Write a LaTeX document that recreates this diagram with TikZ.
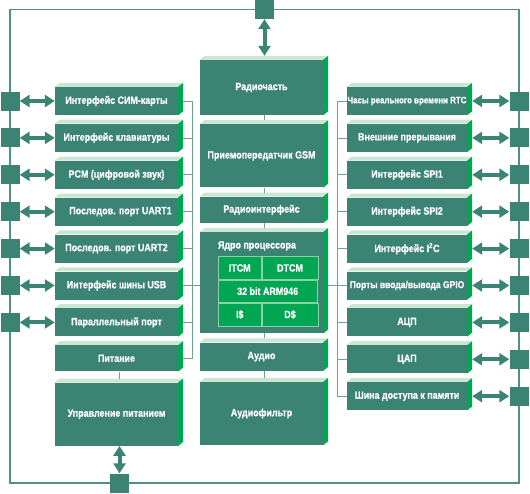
\documentclass[tikz,border=0pt]{standalone}
\usepackage{fontspec}
\setmainfont{Liberation Sans}[FakeStretch=0.85, BoldFeatures={FakeBold=0.8}]
\usetikzlibrary{positioning, arrows.meta}

\definecolor{blkteal}{HTML}{3B8373}
\definecolor{bevlight}{HTML}{CBE7D3}
\definecolor{bevgreen}{HTML}{00A651}
\definecolor{wireteal}{HTML}{6FA294}
\definecolor{frameteal}{HTML}{4F9280}
\definecolor{coregreen}{HTML}{00A651}
\definecolor{coreedge}{HTML}{8AD3A6}

\tikzset{
  blk/.style={fill=blkteal, text=white, font=\fontsize{10.5}{12}\selectfont\bfseries,
    inner sep=0pt, minimum width=123pt, minimum height=28pt,
    append after command={\pgfextra{\let\blkname\tikzlastnode
      \fill[bevlight] (\blkname.north west) -- ++(5,-4) -- ([shift={(5,-4)}]\blkname.north east) -- (\blkname.north east) -- cycle;
      \fill[bevgreen] (\blkname.north east) -- ++(5,-4) -- ([shift={(5,-4)}]\blkname.south east) -- (\blkname.south east) -- cycle;}}},
  sq/.style={fill=blkteal, inner sep=0pt, minimum size=19pt},
  cell/.style={draw=coreedge, fill=coregreen, line width=0.8pt, text=white, inner sep=0pt,
    anchor=north west, font=\fontsize{10.5}{12}\selectfont\bfseries},
  lbl/.style={text=white, inner sep=0pt, font=\fontsize{10.5}{12}\selectfont\bfseries},
  wire/.style={draw=wireteal, line width=0.8pt},
  dbl/.style={draw=blkteal, line width=4pt, {Triangle[width=12pt,length=10pt]}-{Triangle[width=12pt,length=10pt]}}
}

\begin{document}
\begin{tikzpicture}[x=1pt, y=-1pt]
  \useasboundingbox (0,0) rectangle (530,493);
  \coordinate (fl) at (10,0);
  \coordinate (fr) at (519,0);
  \coordinate (lbus) at (192,0);
  \coordinate (rbus) at (337,0);
  \draw[frameteal, line width=1.3pt] (10,9.5) rectangle (519,483);

  \node[blk] (sim) at (116.5,101) {Интерфейс СИМ-карты};
  \node[blk, below=8.5pt of sim] (klav) {Интерфейс клавиатуры};
  \node[blk, below=8.5pt of klav] (pcm) {PCM (цифровой звук)};
  \node[blk, below=8.5pt of pcm] (uarta) {\hspace{8pt}Последов. порт UART1};
  \node[blk, below=8.5pt of uarta] (uartb) {Последов. порт UART2};
  \node[blk, below=8.5pt of uartb] (usb) {Интерфейс шины USB};
  \node[blk, below=8.5pt of usb] (par) {Параллельный порт};
  \node[blk, below=8.5pt of par, minimum height=26pt] (pit) {Питание};
  \node[blk, below=11pt of pit, minimum height=63pt] (upr) {Управление питанием};

  \node[blk, minimum height=55pt] (radio) at (261.5,87.5) {Радиочасть};
  \node[blk, below=9pt of radio, minimum height=63pt] (gsm) {Приемопередатчик GSM};
  \node[blk, below=9pt of gsm, minimum height=26pt] (rif) {Радиоинтерфейс};
  \node[blk, below=9pt of rif, minimum height=101pt] (core) {};
  \node[blk, below=9pt of core] (aud) {Аудио};
  \node[blk, below=11pt of aud, minimum height=63pt] (afil) {Аудиофильтр};

  \node[lbl, anchor=west] (coretitle) at ([xshift=18pt,yshift=-14pt]core.north west) {Ядро процессора};
  \node[cell, minimum width=43pt, minimum height=23pt] (itcm) at ([xshift=18pt,yshift=-24pt]core.north west) {ITCM};
  \node[cell, minimum width=56pt, minimum height=23pt] (dtcm) at (itcm.north east) {DTCM};
  \node[cell, minimum width=99pt, minimum height=22pt] (arm) at (itcm.south west) {32 bit ARM946};
  \node[cell, minimum width=43pt, minimum height=23pt] (icache) at (arm.south west) {I\$};
  \node[cell, minimum width=56pt, minimum height=23pt] (dcache) at (icache.north east) {D\$};

  \node[blk, minimum width=120pt, font=\fontsize{9.3}{11}\selectfont\bfseries] (rtc) at (407,101) {Часы реального времени RTC};
  \node[blk, minimum width=120pt, below=8.5pt of rtc] (irq) {Внешние прерывания};
  \node[blk, minimum width=120pt, below=8.5pt of irq] (spia) {Интерфейс SPI1};
  \node[blk, minimum width=120pt, below=8.5pt of spia] (spib) {Интерфейс SPI2};
  \node[blk, minimum width=120pt, below=8.5pt of spib] (itc) {Интерфейс I\textsuperscript{2}C};
  \node[blk, minimum width=120pt, below=8.5pt of itc, font=\fontsize{10}{12}\selectfont\bfseries] (gpio) {Порты ввода/вывода GPIO};
  \node[blk, minimum width=120pt, below=8.5pt of gpio] (adc) {АЦП};
  \node[blk, minimum width=120pt, below=8.5pt of adc] (dac) {ЦАП};
  \node[blk, minimum width=120pt, below=8.5pt of dac] (mem) {Шина доступа к памяти};

  \node[sq] (sqsim) at (fl |- sim) {};
  \node[sq] (sqklav) at (fl |- klav) {};
  \node[sq] (sqpcm) at (fl |- pcm) {};
  \node[sq] (squarta) at (fl |- uarta) {};
  \node[sq] (squartb) at (fl |- uartb) {};
  \node[sq] (squsb) at (fl |- usb) {};
  \node[sq] (sqpar) at (fl |- par) {};
  \node[sq] (sqrtc) at (fr |- rtc) {};
  \node[sq] (sqirq) at (fr |- irq) {};
  \node[sq] (sqspia) at (fr |- spia) {};
  \node[sq] (sqspib) at (fr |- spib) {};
  \node[sq] (sqitc) at (fr |- itc) {};
  \node[sq] (sqgpio) at (fr |- gpio) {};
  \node[sq] (sqadc) at (fr |- adc) {};
  \node[sq] (sqdac) at (fr |- dac) {};
  \node[sq] (sqmem) at (fr |- mem) {};
  \node[sq] (sqtop) at (264.5,9.5) {};
  \node[sq] (sqbot) at (119.5,483) {};

  \draw[dbl] (sqsim) -- (sim);
  \draw[dbl] (sqklav) -- (klav);
  \draw[dbl] (sqpcm) -- (pcm);
  \draw[dbl] (squarta) -- (uarta);
  \draw[dbl] (squartb) -- (uartb);
  \draw[dbl] (squsb) -- (usb);
  \draw[dbl] (sqpar) -- (par);
  \draw[dbl] ([xshift=5pt]rtc.east) -- (sqrtc);
  \draw[dbl] ([xshift=5pt]irq.east) -- (sqirq);
  \draw[dbl] ([xshift=5pt]spia.east) -- (sqspia);
  \draw[dbl] ([xshift=5pt]spib.east) -- (sqspib);
  \draw[dbl] ([xshift=5pt]itc.east) -- (sqitc);
  \draw[dbl] ([xshift=5pt]gpio.east) -- (sqgpio);
  \draw[dbl] ([xshift=5pt]adc.east) -- (sqadc);
  \draw[dbl] ([xshift=5pt]dac.east) -- (sqdac);
  \draw[dbl] ([xshift=5pt]mem.east) -- (sqmem);
  \draw[dbl] (sqtop) -- ([yshift=4pt]sqtop |- radio.north);
  \draw[dbl] (sqbot |- upr.south) -- (sqbot);

  \draw[wire] ([xshift=5pt]sim.east) -- (sim -| lbus) -- (pit -| lbus) -- ([xshift=5pt]pit.east);
  \draw[wire] ([xshift=5pt]klav.east) -- (klav -| lbus);
  \draw[wire] ([xshift=5pt]pcm.east) -- (pcm -| lbus);
  \draw[wire] ([xshift=5pt]uarta.east) -- (uarta -| lbus);
  \draw[wire] ([xshift=5pt]uartb.east) -- (uartb -| lbus);
  \draw[wire] ([xshift=5pt]usb.east) -- (usb -| core.west);
  \draw[wire] ([xshift=5pt]par.east) -- (par -| lbus);
  \draw[wire] (rtc.west) -- (rtc -| rbus) -- (mem -| rbus) -- (mem.west);
  \draw[wire] (irq.west) -- (irq -| rbus);
  \draw[wire] (spia.west) -- (spia -| rbus);
  \draw[wire] (spib.west) -- (spib -| rbus);
  \draw[wire] (itc.west) -- (itc -| rbus);
  \draw[wire] ([xshift=5pt]gpio -| core.east) -- (gpio.west);
  \draw[wire] (adc.west) -- (adc -| rbus);
  \draw[wire] (dac.west) -- (dac -| rbus);
  \draw[wire] ([xshift=3pt]radio.south) -- ([xshift=3pt,yshift=4pt]gsm.north);
  \draw[wire] ([xshift=3pt]gsm.south) -- ([xshift=3pt,yshift=4pt]rif.north);
  \draw[wire] ([xshift=3pt]rif.south) -- ([xshift=3pt,yshift=4pt]core.north);
  \draw[wire] ([xshift=3pt]core.south) -- ([xshift=3pt,yshift=4pt]aud.north);
  \draw[wire] ([xshift=3pt]aud.south) -- ([xshift=3pt,yshift=4pt]afil.north);
  \draw[wire] ([xshift=3pt]pit.south) -- ([xshift=3pt,yshift=4pt]upr.north);
\end{tikzpicture}
\end{document}
